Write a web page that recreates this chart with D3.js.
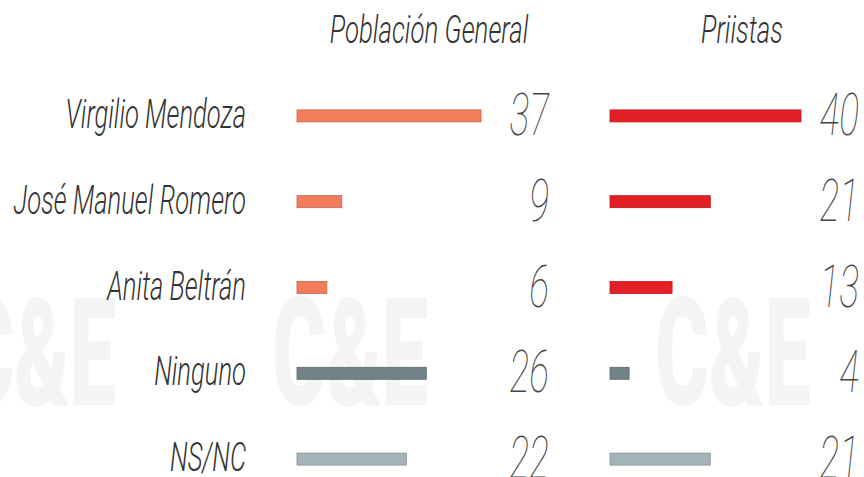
<!DOCTYPE html>
<html>
<head>
<meta charset="UTF-8">
<title>Población General / Priistas</title>
<style>
  body { margin: 0; background: #ffffff; }
  text { font-family: 'Roboto', 'Liberation Sans Narrow', sans-serif; font-style: italic; font-weight: 300; fill: #333; }
  .num { font-weight: 100; fill: #444; }
  .mark { font-style: normal; font-weight: 900; fill: #f4f4f4; }
</style>
</head>
<body>
<script src="https://d3js.org/d3.v7.min.js"></script>
<script>
const categories = ['Virgilio Mendoza', 'José Manuel Romero', 'Anita Beltrán', 'Ninguno', 'NS/NC'];
const general = [37, 9, 6, 26, 22];
const priistas = [40, 21, 13, 4, 21];
const panels = ['Población General', 'Priistas'];

const W = 864, H = 477;
const svg = d3.select('body').append('svg').attr('width', W).attr('height', H);

// faint watermarks behind the chart
[[-40, 405], [272, 405], [655, 405]].forEach(p => {
  svg.append('text').attr('class', 'mark')
     .attr('transform', `translate(${p[0]},${p[1]}) scale(0.55,1)`)
     .attr('font-size', 150).text('C&E');
});

const y = d3.scaleBand().domain(categories).range([73, 502]);

// colours: candidates by panel, others fixed
function colour(panel, cat) {
  if (cat === 'Ninguno') return '#718389';
  if (cat === 'NS/NC') return '#a3b3b9';
  return panel === 0 ? '#f27d5c' : '#e41f26';
}

const xs = [
  d3.scaleLinear().domain([0, 37]).range([297, 481]),
  d3.scaleLinear().domain([0, 40]).range([610, 801])
];
const numRight = [549, 859];
const headX = [429, 742];
const series = [general, priistas];

// category labels
svg.selectAll('.lab').data(categories).enter().append('text')
   .attr('class', 'lab')
   .attr('text-anchor', 'end')
   .attr('font-size', 40)
   .attr('transform', d => `translate(246,${y(d) + y.bandwidth() / 2 + 12}) scale(0.64,1)`)
   .text(d => d);

panels.forEach((p, i) => {
  svg.append('text')
     .attr('text-anchor', 'middle')
     .attr('font-size', 38)
     .attr('transform', `translate(${headX[i]},43) scale(0.68,1)`)
     .text(p);

  const rows = categories.map((c, k) => ({ cat: c, v: series[i][k] }));
  svg.selectAll('.bar' + i).data(rows).enter().append('rect')
     .attr('x', xs[i](0))
     .attr('y', d => y(d.cat) + y.bandwidth() / 2 - 6)
     .attr('width', d => xs[i](d.v) - xs[i](0))
     .attr('height', 12)
     .attr('fill', d => colour(i, d.cat))
     .attr('stroke', d => d3.color(colour(i, d.cat)).darker(0.6))
     .attr('stroke-width', 0.8);

  svg.selectAll('.num' + i).data(rows).enter().append('text')
     .attr('class', 'num')
     .attr('text-anchor', 'end')
     .attr('font-size', 60)
     .attr('transform', d => `translate(${numRight[i]},${y(d.cat) + y.bandwidth() / 2 + 19}) scale(0.62,1)`)
     .text(d => d.v);
});
</script>
</body>
</html>
